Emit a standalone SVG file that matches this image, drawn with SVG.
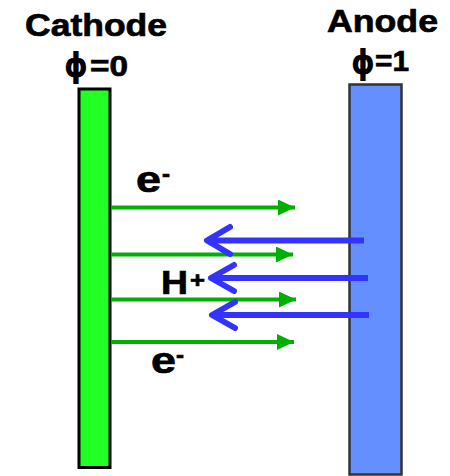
<svg xmlns="http://www.w3.org/2000/svg" width="450" height="476" viewBox="0 0 450 476">
<style>
.lbl{font-family:"Liberation Sans",Arial,sans-serif;font-weight:bold;fill:#000;stroke:#000;stroke-width:0.7}
.phi{font-family:"DejaVu Sans",sans-serif;font-weight:bold;fill:#000}
.e{stroke:#00b000;stroke-width:4;fill:none}
.h{stroke:#3333ff;stroke-width:6;fill:none}
.hh{stroke:#3333ff;stroke-width:6;fill:none;stroke-linecap:round;stroke-linejoin:round}
</style>
<defs>
<marker id="gh" viewBox="0 0 17 16" refX="17" refY="8" markerWidth="17" markerHeight="16" markerUnits="userSpaceOnUse" orient="auto">
<path d="M0,0 L17,8 L0,16 Z" fill="#00b000"/>
</marker>
</defs>
<rect width="450" height="476" fill="#fff"/>
<g id="cathode">
<rect x="79" y="89" width="31" height="378.5" fill="#22ff22" stroke="#000" stroke-width="3"/>
<text class="lbl" x="25" y="36" font-size="32" textLength="142" lengthAdjust="spacingAndGlyphs">Cathode</text>
<text class="phi" x="64" y="77" font-size="34" textLength="24" lengthAdjust="spacingAndGlyphs">ϕ</text>
<text class="lbl" x="90" y="76" font-size="30" textLength="38" lengthAdjust="spacingAndGlyphs">=0</text>
</g>
<g id="anode">
<rect x="349.5" y="84.5" width="52" height="390" fill="#6490ff" stroke="#333" stroke-width="2.5"/>
<text class="lbl" x="327" y="32" font-size="32" textLength="111" lengthAdjust="spacingAndGlyphs">Anode</text>
<text class="phi" x="351" y="74" font-size="34" textLength="24" lengthAdjust="spacingAndGlyphs">ϕ</text>
<text class="lbl" x="375" y="71" font-size="30" textLength="34" lengthAdjust="spacingAndGlyphs">=1</text>
</g>
<g id="connectors">
<line class="e" x1="111" y1="207.5" x2="295" y2="207.5" marker-end="url(#gh)"/>
<line class="e" x1="111" y1="254.5" x2="293" y2="254.5" marker-end="url(#gh)"/>
<line class="e" x1="111" y1="299.5" x2="296" y2="299.5" marker-end="url(#gh)"/>
<line class="e" x1="111" y1="342" x2="294" y2="342" marker-end="url(#gh)"/>
<path class="h" d="M364,240.5 H209"/>
<path class="hh" d="M230,227 L207,240.5 L230,254"/>
<path class="h" d="M368,278 H213"/>
<path class="hh" d="M234,265 L211,278 L234,291"/>
<path class="h" d="M369,315 H214"/>
<path class="hh" d="M235,302 L212,315 L235,328"/>
</g>
<g id="labels">
<text class="lbl" x="136" y="192" font-size="36" textLength="25" lengthAdjust="spacingAndGlyphs">e</text>
<text class="lbl" x="162" y="182" font-size="24" textLength="8" lengthAdjust="spacingAndGlyphs">-</text>
<text class="lbl" x="161" y="294" font-size="33" textLength="27" lengthAdjust="spacingAndGlyphs">H</text>
<text class="lbl" x="190" y="288" font-size="22" textLength="15" lengthAdjust="spacingAndGlyphs">+</text>
<text class="lbl" x="151" y="373" font-size="36" textLength="25" lengthAdjust="spacingAndGlyphs">e</text>
<text class="lbl" x="176" y="363" font-size="24" textLength="8" lengthAdjust="spacingAndGlyphs">-</text>
</g>
</svg>
